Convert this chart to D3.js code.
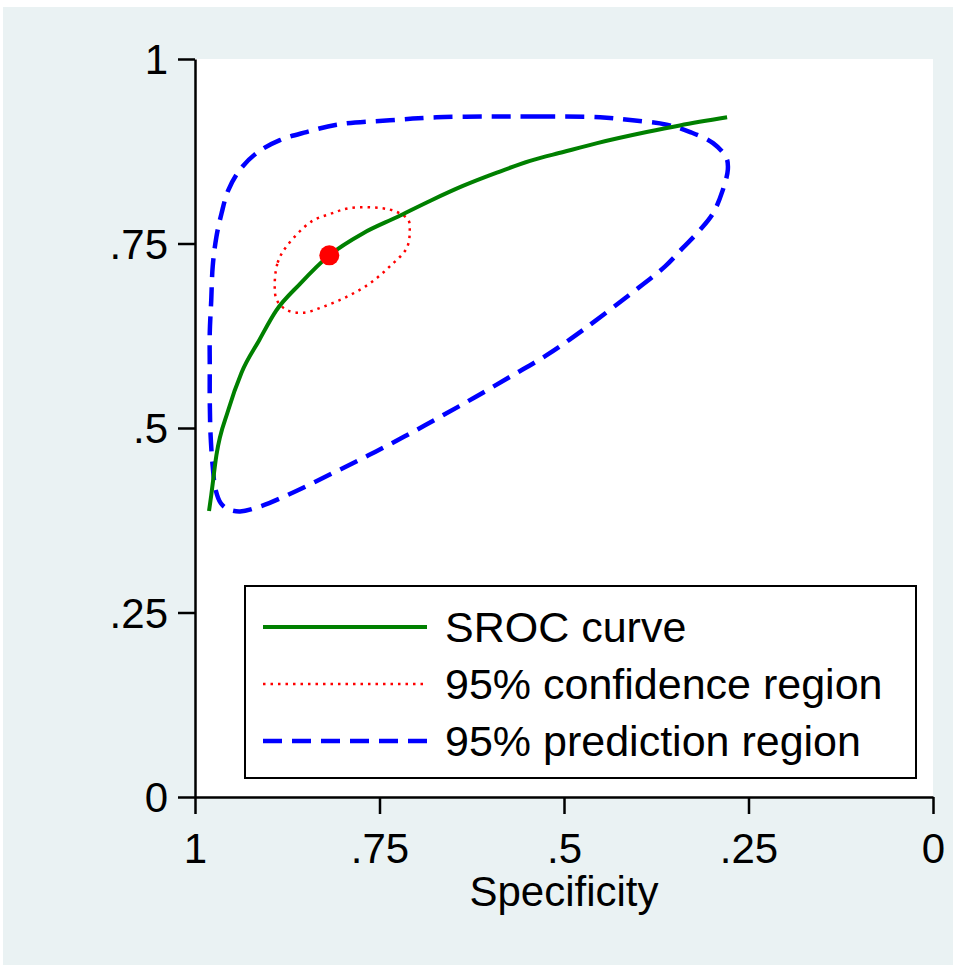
<!DOCTYPE html>
<html>
<head>
<meta charset="utf-8">
<script src="https://cdn.jsdelivr.net/npm/d3@7/dist/d3.min.js"></script>
<style>
  html, body { margin: 0; padding: 0; background: #ffffff; }
  svg { display: block; }
  text { font-family: "Liberation Sans", Arial, Helvetica, sans-serif; }
</style>
</head>
<body>
<svg id="chart" width="953" height="965"></svg>
<script>
// ---- Data ----
const tickValues = [0, 0.25, 0.5, 0.75, 1];
const tickLabels = ["0", ".25", ".5", ".75", "1"];

// SROC curve: [specificity, sensitivity]
const srocSpec = [0.981, 0.978, 0.971, 0.955, 0.937, 0.913, 0.890, 0.858, 0.818, 0.772, 0.726, 0.681, 0.637, 0.591, 0.546, 0.501, 0.455, 0.388, 0.343, 0.279];
const srocSens = [0.3875, 0.409, 0.463, 0.524, 0.575, 0.619, 0.659, 0.695, 0.734, 0.764, 0.786, 0.808, 0.828, 0.846, 0.862, 0.874, 0.886, 0.901, 0.910, 0.921];

// Summary point
const summarySpec = 0.818;
const summarySens = 0.734;

// 95% confidence region
const confSpec = [0.892, 0.888, 0.876, 0.842, 0.817, 0.790, 0.749, 0.727, 0.711, 0.709, 0.713, 0.736, 0.763, 0.794, 0.827, 0.854, 0.876, 0.889];
const confSens = [0.691, 0.724, 0.746, 0.780, 0.790, 0.798, 0.798, 0.793, 0.782, 0.768, 0.744, 0.719, 0.696, 0.678, 0.664, 0.656, 0.660, 0.673];

// 95% prediction region
const predSpec = [0.451, 0.533, 0.600, 0.673, 0.736, 0.808, 0.849, 0.885, 0.916, 0.939, 0.955, 0.964, 0.971, 0.976, 0.978, 0.980, 0.980, 0.980, 0.979, 0.976, 0.972, 0.965, 0.955, 0.939, 0.911, 0.862, 0.813, 0.765, 0.717, 0.668, 0.620, 0.572, 0.523, 0.474, 0.412, 0.363, 0.339, 0.316, 0.298, 0.285, 0.278, 0.280, 0.298, 0.329, 0.361, 0.407];
const predSens = [0.921, 0.922, 0.922, 0.921, 0.917, 0.911, 0.901, 0.890, 0.873, 0.850, 0.822, 0.791, 0.759, 0.719, 0.673, 0.629, 0.583, 0.538, 0.493, 0.448, 0.416, 0.398, 0.390, 0.387, 0.394, 0.415, 0.439, 0.463, 0.488, 0.515, 0.542, 0.570, 0.599, 0.633, 0.680, 0.719, 0.744, 0.768, 0.791, 0.822, 0.850, 0.866, 0.886, 0.901, 0.911, 0.917];

const legendLabels = ["SROC curve", "95% confidence region", "95% prediction region"];
const xTitle = "Specificity";

// ---- Layout ----
const svg = d3.select("#chart");
const W = 953, H = 965;
const plot = { left: 195, right: 933, top: 59, bottom: 797 };
const FS = 42;
const LFS = 43;

svg.append("rect").attr("x", 3).attr("y", 7).attr("width", W - 3).attr("height", H - 7).attr("fill", "#EAF2F3");
svg.append("rect").attr("x", plot.left).attr("y", plot.top)
  .attr("width", plot.right - plot.left).attr("height", plot.bottom - plot.top).attr("fill", "#ffffff");

const x = d3.scaleLinear().domain([1, 0]).range([plot.left, plot.right]);
const y = d3.scaleLinear().domain([0, 1]).range([plot.bottom, plot.top]);

const fmt = v => tickLabels[tickValues.indexOf(v)];

// Curves
const line = d3.line().x(d => x(d[0])).y(d => y(d[1]));

const pred = predSpec.map((s, i) => [s, predSens[i]]);
svg.append("path").datum(pred)
  .attr("d", line.curve(d3.curveCatmullRomClosed.alpha(0.5)))
  .attr("fill", "none").attr("stroke", "#0000FF").attr("stroke-width", 4.5)
  .attr("stroke-dasharray", "19 10");

const conf = confSpec.map((s, i) => [s, confSens[i]]);
svg.append("path").datum(conf)
  .attr("d", line.curve(d3.curveCatmullRomClosed.alpha(0.5)))
  .attr("fill", "none").attr("stroke", "#FF0000").attr("stroke-width", 2.5)
  .attr("stroke-dasharray", "2.5 5");

const sroc = srocSpec.map((s, i) => [s, srocSens[i]]);
svg.append("path").datum(sroc)
  .attr("d", line.curve(d3.curveMonotoneX))
  .attr("fill", "none").attr("stroke", "#008000").attr("stroke-width", 4);

svg.append("circle").attr("cx", x(summarySpec)).attr("cy", y(summarySens)).attr("r", 10)
  .attr("fill", "#FF0000");

// Axes
const yAxis = d3.axisLeft(y).tickValues(tickValues).tickFormat(fmt).tickSize(17).tickSizeOuter(0).tickPadding(10);
const gy = svg.append("g").attr("transform", `translate(${plot.left},0)`).call(yAxis);
const xAxis = d3.axisBottom(x).tickValues(tickValues).tickFormat(fmt).tickSize(17).tickSizeOuter(0).tickPadding(19);
const gx = svg.append("g").attr("transform", `translate(0,${plot.bottom})`).call(xAxis);
[gx, gy].forEach(g => {
  g.selectAll("path.domain").attr("stroke", "#000").attr("stroke-width", 2.5);
  g.selectAll(".tick line").attr("stroke", "#000").attr("stroke-width", 2.5);
  g.selectAll(".tick text").attr("fill", "#000").style("font-size", FS + "px")
    .style("font-family", '"Liberation Sans", Arial, sans-serif');
});
gy.selectAll(".tick text").attr("dy", "0.35em");

svg.append("text").attr("x", (plot.left + plot.right) / 2).attr("y", 906)
  .attr("text-anchor", "middle").style("font-size", FS + "px").attr("fill", "#000").text(xTitle);

// Legend
const lg = svg.append("g");
lg.append("rect").attr("x", 245).attr("y", 586).attr("width", 671).attr("height", 192)
  .attr("fill", "#fff").attr("stroke", "#000").attr("stroke-width", 2);
const legendY = [627, 684, 741];
const legendStyles = [
  { stroke: "#008000", width: 4, dash: null },
  { stroke: "#FF0000", width: 2.5, dash: "2.5 5" },
  { stroke: "#0000FF", width: 4.5, dash: "19 10" }
];
legendLabels.forEach((lab, i) => {
  const l = lg.append("line").attr("x1", 263).attr("x2", 427).attr("y1", legendY[i]).attr("y2", legendY[i])
    .attr("stroke", legendStyles[i].stroke).attr("stroke-width", legendStyles[i].width);
  if (legendStyles[i].dash) l.attr("stroke-dasharray", legendStyles[i].dash);
  lg.append("text").attr("x", 445).attr("y", legendY[i]).attr("dy", "0.36em")
    .style("font-size", LFS + "px").attr("fill", "#000").text(lab);
});
</script>
</body>
</html>
